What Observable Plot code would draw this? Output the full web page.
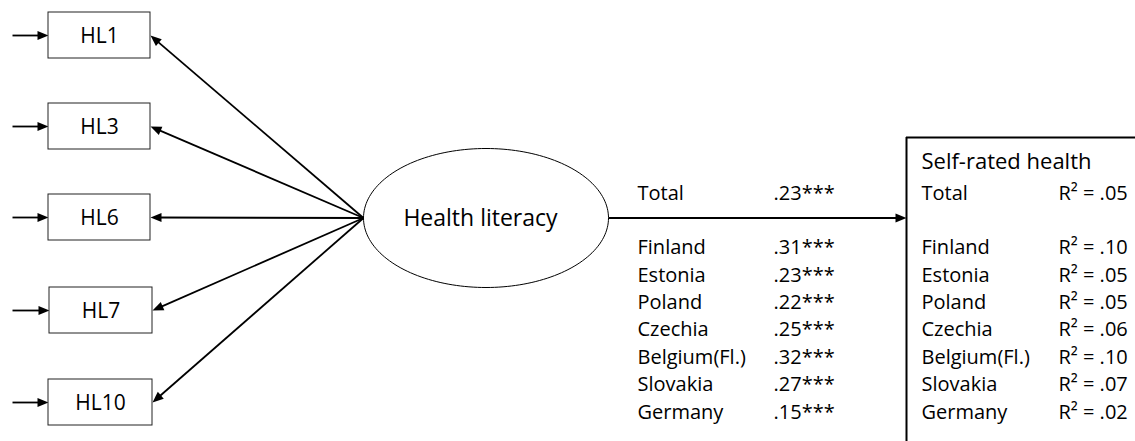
<!DOCTYPE html>
<html>
<head>
<meta charset="utf-8">
<script src="https://cdn.jsdelivr.net/npm/d3@7"></script>
<script src="https://cdn.jsdelivr.net/npm/@observablehq/plot@0.6"></script>
<style>
  html, body { margin: 0; padding: 0; background: #fff; }
</style>
</head>
<body>
<div id="chart"></div>
<script>
// ---- data ----
const indicators = ["HL1", "HL3", "HL6", "HL7", "HL10"];
const latentName = "Health literacy";
const outcomeName = "Self-rated health";
const groups = ["Total", "Finland", "Estonia", "Poland", "Czechia", "Belgium(Fl.)", "Slovakia", "Germany"];
const betas = [0.23, 0.31, 0.23, 0.22, 0.25, 0.32, 0.27, 0.15];
const stars = ["***", "***", "***", "***", "***", "***", "***", "***"];
const r2 = [0.05, 0.10, 0.05, 0.05, 0.06, 0.10, 0.07, 0.02];

// ---- layout ----
const W = 1135, H = 441;
const boxY = [35, 126, 217, 310, 402];
const boxX1 = [48, 48, 48, 49, 48];
const boxX2 = [150, 150, 150, 152, 152];
const boxH = 46;
const ell = {cx: 485.5, cy: 217.5, rx: 122.5, ry: 69.5};
const outBox = {x: 906, y: 137};
const rowY = i => i === 0 ? 193.5 : 247.5 + 27.35 * (i - 1);
const colName = 637, colBeta = 773, colName2 = 921, colR2 = 1058;
const font = "'Open Sans', Lato, sans-serif";

const fmt = v => d3.format(".2f")(v).replace(/^0/, "");

const boxes = indicators.map((name, i) => ({name, x1: boxX1[i], x2: boxX2[i], y1: boxY[i] - boxH / 2, y2: boxY[i] + boxH / 2, cy: boxY[i]}));

// arrows: error inputs, loadings, structural path
const arrows = [];
boxes.forEach(b => arrows.push({x1: 12, y1: b.cy, x2: b.x1, y2: b.cy, w: 1.8}));
boxes.forEach(b => arrows.push({x1: ell.cx - ell.rx, y1: ell.cy, x2: b.x2, y2: b.cy, w: 1.8}));
arrows.push({x1: ell.cx + ell.rx, y1: ell.cy, x2: outBox.x, y2: ell.cy, w: 1.8});
arrows.forEach(a => {
  const dx = a.x2 - a.x1, dy = a.y2 - a.y1, L = Math.hypot(dx, dy);
  a.angle = Math.atan2(dx, -dy) * 180 / Math.PI;
  a.lx2 = a.x2 - dx / L * 6;
  a.ly2 = a.y2 - dy / L * 6;
});
const head = {draw(ctx) { ctx.moveTo(0, 0); ctx.lineTo(-4.5, 11); ctx.lineTo(4.5, 11); ctx.closePath(); }};

const ellipsePts = d3.range(0, 360, 2).map(a => ({
  x: ell.cx + ell.rx * Math.cos(a * Math.PI / 180),
  y: ell.cy + ell.ry * Math.sin(a * Math.PI / 180)
}));

const rows = groups.map((g, i) => ({g, beta: fmt(betas[i]) + stars[i], r2: "R\u00b2 = " + fmt(r2[i]), y: rowY(i)}));

const chart = Plot.plot({
  width: W, height: H, margin: 0,
  x: {domain: [0, W], range: [0, W], axis: null},
  y: {domain: [0, H], range: [0, H], axis: null},
  style: {fontFamily: font, background: "#fff", color: "#000"},
  marks: [
    Plot.link(arrows, {x1: "x1", y1: "y1", x2: "lx2", y2: "ly2", stroke: "#000", strokeWidth: "w"}),
    Plot.dot(arrows, {x: "x2", y: "y2", symbol: head, rotate: "angle", fill: "#000", stroke: "none", r: 5}),
    Plot.rect(boxes, {x1: "x1", x2: "x2", y1: "y1", y2: "y2", fill: "#fff", stroke: "#222", strokeWidth: 1}),
    Plot.text(boxes, {x: d => (d.x1 + d.x2) / 2, y: d => d.cy + 0.5, text: "name", fontSize: 21, fill: "#000"}),
    Plot.line(ellipsePts, {x: "x", y: "y", curve: "linear-closed", stroke: "#000", strokeWidth: 1, fill: "#fff"}),
    Plot.text([latentName], {x: ell.cx - 5.5, y: ell.cy + 1, text: d => d, fontSize: 23, fill: "#000"}),
    Plot.ruleY([outBox.y], {x1: outBox.x, x2: W + 5, stroke: "#000", strokeWidth: 2}),
    Plot.ruleX([outBox.x], {y1: outBox.y, y2: H + 5, stroke: "#000", strokeWidth: 2}),
    Plot.text([outcomeName], {x: colName2, y: 161.5, text: d => d, textAnchor: "start", fontSize: 22, fill: "#000"}),
    Plot.text(rows, {x: colName, y: "y", text: "g", textAnchor: "start", fontSize: 20, fill: "#000"}),
    Plot.text(rows, {x: colBeta, y: "y", text: "beta", textAnchor: "start", fontSize: 20, fill: "#000"}),
    Plot.text(rows, {x: colName2, y: "y", text: "g", textAnchor: "start", fontSize: 20, fill: "#000"}),
    Plot.text(rows, {x: colR2, y: "y", text: "r2", textAnchor: "start", fontSize: 20, fill: "#000"})
  ]
});
document.getElementById("chart").appendChild(chart);
</script>
</body>
</html>
